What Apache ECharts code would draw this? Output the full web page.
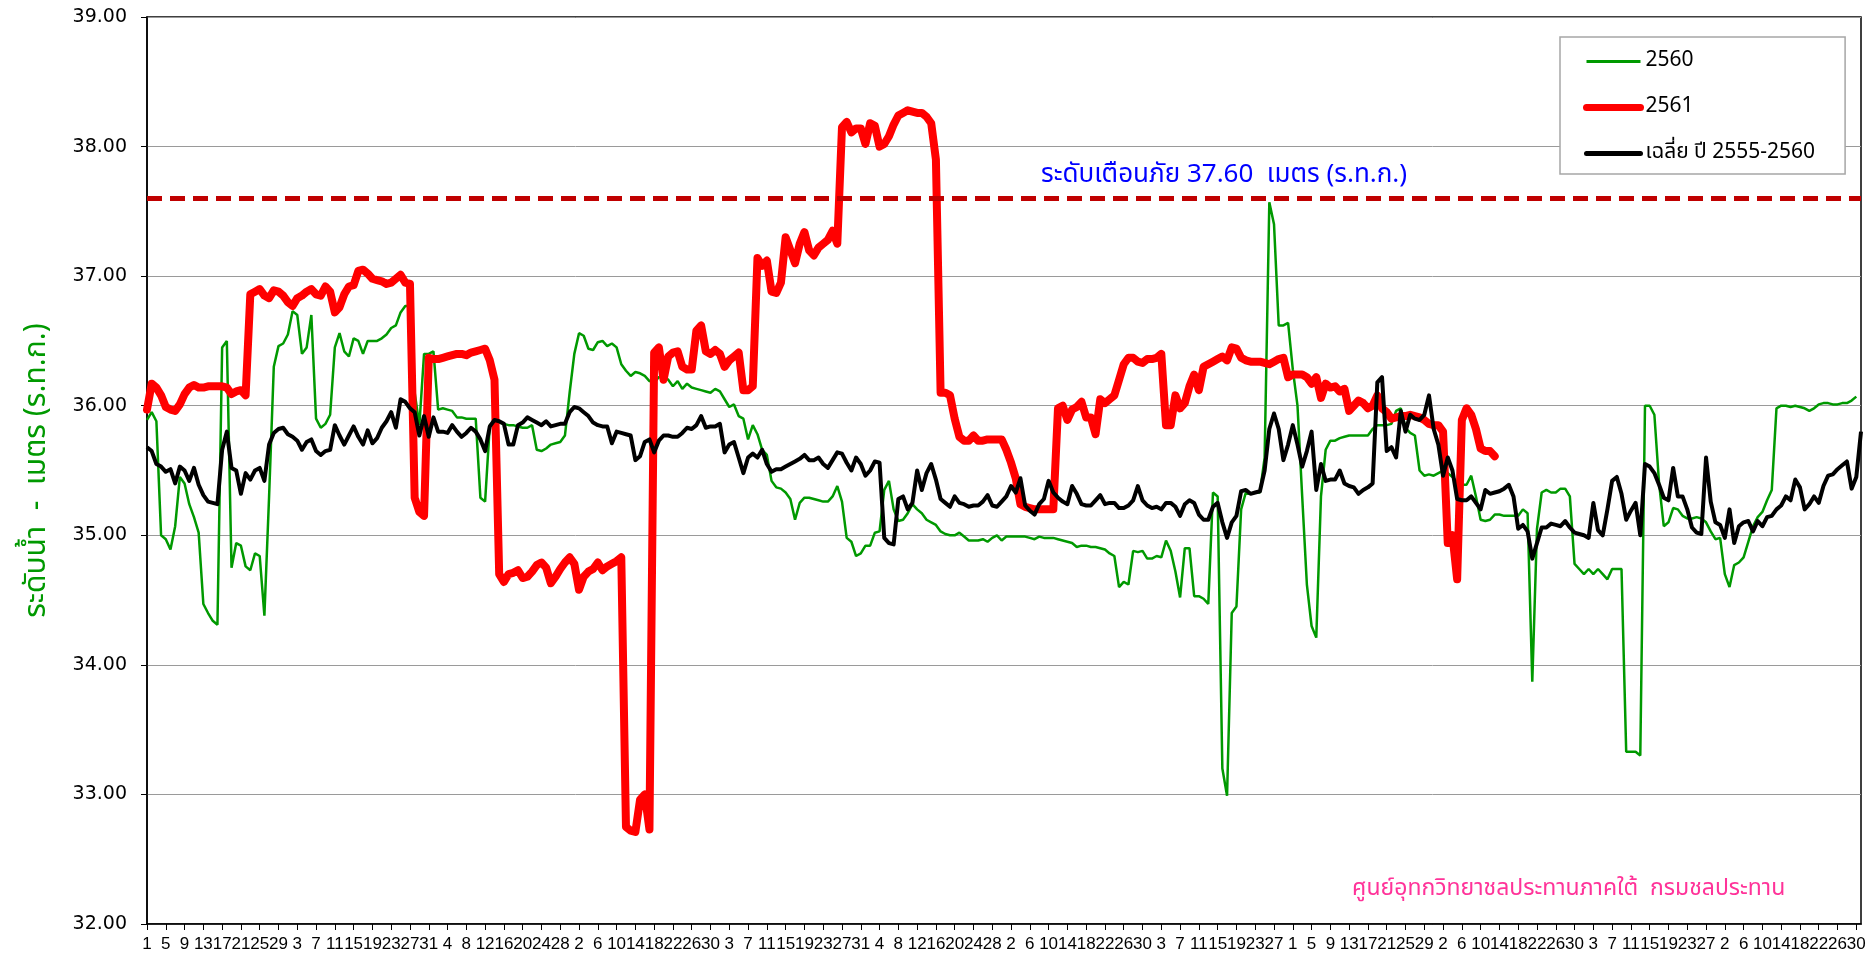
<!DOCTYPE html>
<html>
<head>
<meta charset="utf-8">
<script src="https://cdn.jsdelivr.net/npm/echarts@6/dist/echarts.min.js"></script>
<style>
  html, body { margin: 0; padding: 0; background: #ffffff; }
  #chart { width: 1876px; height: 961px; }
</style>
</head>
<body>
<div id="chart"></div>
<script>
// Water year: 1 Apr – 31 Mar (Feb has 29 days this year)
const MONTH_DAYS = [30, 31, 30, 31, 31, 30, 31, 30, 31, 31, 29, 31];

// Daily water level (m MSL), water year 2560
const level2560 = [
  35.89, 35.95, 35.88, 35.00, 34.97, 34.89, 35.07, 35.45, 35.40, 35.24,
  35.14, 35.02, 34.47, 34.40, 34.34, 34.31, 36.45, 36.50, 34.75, 34.94,
  34.92, 34.76, 34.73, 34.86, 34.84, 34.38, 35.30, 36.30, 36.46, 36.48,
  36.55, 36.73, 36.70, 36.40, 36.45, 36.70, 35.90, 35.83, 35.86, 35.93,
  36.45, 36.56, 36.42, 36.38, 36.52, 36.50, 36.40, 36.50, 36.50, 36.50,
  36.52, 36.55, 36.60, 36.62, 36.72, 36.77, 36.77, 36.10, 35.85, 36.40,
  36.40, 36.42, 35.97, 35.98, 35.97, 35.96, 35.91, 35.91, 35.90, 35.90,
  35.90, 35.29, 35.26, 35.85, 35.88, 35.87, 35.86, 35.85, 35.85, 35.84,
  35.83, 35.83, 35.85, 35.66, 35.65, 35.67, 35.70, 35.71, 35.72, 35.77,
  36.10, 36.40, 36.56, 36.54, 36.44, 36.43, 36.49, 36.50, 36.46, 36.48,
  36.45, 36.32, 36.27, 36.23, 36.26, 36.25, 36.23, 36.19, 36.18, 36.22,
  36.23, 36.20, 36.15, 36.19, 36.13, 36.17, 36.14, 36.13, 36.12, 36.11,
  36.10, 36.13, 36.11, 36.05, 35.99, 36.01, 35.92, 35.90, 35.74, 35.85,
  35.78, 35.66, 35.62, 35.42, 35.37, 35.36, 35.33, 35.28, 35.12, 35.25,
  35.29, 35.29, 35.28, 35.27, 35.26, 35.26, 35.30, 35.38, 35.26, 34.98,
  34.95, 34.84, 34.86, 34.92, 34.92, 35.02, 35.03, 35.35, 35.42, 35.20,
  35.11, 35.12, 35.17, 35.24, 35.20, 35.17, 35.12, 35.10, 35.08, 35.03,
  35.01, 35.00, 35.00, 35.02, 34.99, 34.96, 34.96, 34.96, 34.97, 34.95,
  34.98, 35.00, 34.96, 34.99, 34.99, 34.99, 34.99, 34.99, 34.98, 34.97,
  34.99, 34.98, 34.98, 34.98, 34.97, 34.96, 34.95, 34.94, 34.91, 34.92,
  34.92, 34.91, 34.91, 34.90, 34.89, 34.86, 34.84, 34.60, 34.64, 34.62,
  34.88, 34.87, 34.88, 34.82, 34.82, 34.84, 34.83, 34.96, 34.88, 34.72,
  34.52, 34.90, 34.90, 34.53, 34.53, 34.51, 34.47, 35.33, 35.30, 33.20,
  32.99, 34.40, 34.45, 35.20, 35.33, 35.32, 35.33, 35.33, 35.60, 37.57,
  37.40, 36.62, 36.62, 36.64, 36.28, 36.00, 35.30, 34.62, 34.30, 34.21,
  35.30, 35.66, 35.73, 35.73, 35.75, 35.76, 35.77, 35.77, 35.77, 35.77,
  35.77, 35.82, 35.85, 35.85, 35.85, 35.86, 35.96, 35.98, 35.83, 35.79,
  35.77, 35.50, 35.46, 35.47, 35.46, 35.48, 35.50, 35.48, 35.45, 35.41,
  35.39, 35.39, 35.46, 35.30, 35.12, 35.11, 35.12, 35.16, 35.16, 35.15,
  35.15, 35.15, 35.15, 35.20, 35.17, 33.87, 35.05, 35.33, 35.35, 35.33,
  35.33, 35.36, 35.36, 35.30, 34.78, 34.74, 34.70, 34.74, 34.70, 34.74,
  34.70, 34.66, 34.74, 34.74, 34.74, 33.33, 33.33, 33.33, 33.30, 36.00,
  36.00, 35.93, 35.40, 35.07, 35.10, 35.21, 35.20, 35.15, 35.13, 35.13,
  35.14, 35.13, 35.10, 35.03, 34.97, 34.98, 34.70, 34.60, 34.77, 34.79,
  34.83, 34.95, 35.07, 35.14, 35.18, 35.27, 35.35, 35.98, 36.00, 36.00,
  35.99, 36.00, 35.99, 35.98, 35.96, 35.98, 36.01, 36.02, 36.02, 36.01,
  36.01, 36.02, 36.02, 36.04, 36.07
];

// Daily water level (m MSL), water year 2561 (to date)
const level2561 = [
  35.97, 36.17, 36.14, 36.08, 35.99, 35.97, 35.96, 36.01, 36.09, 36.14,
  36.16, 36.14, 36.14, 36.15, 36.15, 36.15, 36.15, 36.14, 36.09, 36.11,
  36.12, 36.08, 36.86, 36.88, 36.90, 36.85, 36.83, 36.89, 36.88, 36.85,
  36.80, 36.77, 36.83, 36.85, 36.88, 36.90, 36.86, 36.85, 36.92, 36.88,
  36.72, 36.76, 36.86, 36.92, 36.93, 37.04, 37.05, 37.02, 36.98, 36.97,
  36.96, 36.94, 36.95, 36.98, 37.01, 36.95, 36.94, 35.29, 35.18, 35.15,
  36.37, 36.36, 36.36, 36.37, 36.38, 36.39, 36.40, 36.40, 36.39, 36.41,
  36.42, 36.43, 36.44, 36.35, 36.20, 34.70, 34.64, 34.70, 34.71, 34.73,
  34.67, 34.68, 34.72, 34.77, 34.79, 34.75, 34.63, 34.68, 34.74, 34.79,
  34.83, 34.78, 34.58, 34.68, 34.72, 34.74, 34.79, 34.73, 34.76, 34.78,
  34.80, 34.83, 32.75, 32.72, 32.71, 32.96, 33.00, 32.73, 36.41, 36.45,
  36.20, 36.38, 36.41, 36.42, 36.30, 36.28, 36.28, 36.58, 36.62, 36.42,
  36.40, 36.43, 36.40, 36.30, 36.35, 36.38, 36.41, 36.12, 36.12, 36.15,
  37.14, 37.08, 37.12, 36.88, 36.87, 36.95, 37.30, 37.20, 37.10, 37.25,
  37.34, 37.20, 37.16, 37.22, 37.25, 37.28, 37.35, 37.25, 38.15, 38.19,
  38.11, 38.14, 38.14, 38.02, 38.18, 38.16, 38.00, 38.02, 38.08, 38.17,
  38.24, 38.26, 38.28, 38.27, 38.26, 38.26, 38.23, 38.18, 37.90, 36.10,
  36.10, 36.08, 35.90, 35.76, 35.73, 35.73, 35.77, 35.73, 35.73, 35.74,
  35.74, 35.74, 35.74, 35.66, 35.56, 35.44, 35.24, 35.22, 35.21, 35.20,
  35.20, 35.20, 35.20, 35.20, 35.98, 36.00, 35.89, 35.97, 35.99, 36.03,
  35.91, 35.91, 35.78, 36.05, 36.02, 36.05, 36.08, 36.20, 36.32, 36.37,
  36.37, 36.34, 36.33, 36.36, 36.36, 36.37, 36.40, 35.85, 35.85, 36.08,
  35.98, 36.02, 36.15, 36.24, 36.12, 36.30, 36.32, 36.34, 36.36, 36.38,
  36.35, 36.45, 36.44, 36.37, 36.35, 36.34, 36.34, 36.34, 36.33, 36.32,
  36.34, 36.36, 36.37, 36.22, 36.24, 36.24, 36.24, 36.22, 36.17, 36.22,
  36.06, 36.17, 36.14, 36.15, 36.11, 36.13, 35.96, 36.00, 36.04, 36.02,
  35.98, 36.00, 36.08, 35.98, 35.95, 35.90, 35.91, 35.92, 35.92, 35.93,
  35.92, 35.91, 35.89, 35.86, 35.85, 35.85, 35.80, 34.94, 35.00, 34.66,
  35.89, 35.98, 35.93, 35.82, 35.67, 35.65, 35.65, 35.61
];

// Daily mean water level (m MSL), water years 2555–2560
const avg2555_2560 = [
  35.68, 35.65, 35.55, 35.53, 35.49, 35.51, 35.40, 35.53, 35.50, 35.42,
  35.52, 35.39, 35.31, 35.26, 35.25, 35.24, 35.66, 35.80, 35.52, 35.50,
  35.32, 35.48, 35.43, 35.50, 35.52, 35.42, 35.70, 35.79, 35.82, 35.83,
  35.78, 35.76, 35.73, 35.66, 35.72, 35.74, 35.65, 35.62, 35.65, 35.66,
  35.85, 35.77, 35.70, 35.77, 35.84, 35.76, 35.70, 35.81, 35.71, 35.75,
  35.83, 35.88, 35.95, 35.83, 36.05, 36.03, 35.98, 35.95, 35.77, 35.92,
  35.76, 35.91, 35.80, 35.80, 35.79, 35.85, 35.80, 35.76, 35.79, 35.83,
  35.80, 35.74, 35.65, 35.84, 35.89, 35.88, 35.86, 35.70, 35.70, 35.85,
  35.87, 35.91, 35.89, 35.87, 35.85, 35.88, 35.84, 35.85, 35.86, 35.86,
  35.95, 35.99, 35.98, 35.95, 35.92, 35.87, 35.85, 35.84, 35.84, 35.71,
  35.80, 35.79, 35.78, 35.77, 35.58, 35.61, 35.72, 35.74, 35.64, 35.73,
  35.77, 35.77, 35.76, 35.76, 35.79, 35.83, 35.82, 35.85, 35.92, 35.83,
  35.84, 35.84, 35.86, 35.64, 35.70, 35.72, 35.60, 35.48, 35.60, 35.63,
  35.60, 35.66, 35.55, 35.49, 35.51, 35.51, 35.53, 35.55, 35.57, 35.59,
  35.62, 35.58, 35.58, 35.60, 35.55, 35.52, 35.58, 35.64, 35.63, 35.56,
  35.50, 35.60, 35.55, 35.46, 35.50, 35.57, 35.56, 34.98, 34.94, 34.93,
  35.28, 35.30, 35.20, 35.25, 35.50, 35.35, 35.48, 35.55, 35.43, 35.28,
  35.25, 35.22, 35.30, 35.25, 35.24, 35.22, 35.23, 35.23, 35.26, 35.31,
  35.23, 35.22, 35.26, 35.30, 35.38, 35.33, 35.44, 35.23, 35.19, 35.16,
  35.24, 35.28, 35.42, 35.33, 35.29, 35.26, 35.24, 35.38, 35.32, 35.24,
  35.23, 35.23, 35.27, 35.31, 35.24, 35.25, 35.25, 35.21, 35.21, 35.23,
  35.27, 35.38, 35.27, 35.23, 35.21, 35.22, 35.20, 35.25, 35.25, 35.22,
  35.15, 35.24, 35.27, 35.25, 35.16, 35.12, 35.12, 35.22, 35.25, 35.10,
  34.98, 35.10, 35.15, 35.34, 35.35, 35.32, 35.33, 35.34, 35.50, 35.82,
  35.94, 35.82, 35.58, 35.70, 35.85, 35.70, 35.53, 35.65, 35.80, 35.35,
  35.55, 35.42, 35.43, 35.43, 35.50, 35.40, 35.38, 35.37, 35.32, 35.35,
  35.37, 35.40, 36.18, 36.22, 35.65, 35.68, 35.60, 35.96, 35.80, 35.93,
  35.90, 35.89, 35.93, 36.08, 35.82, 35.70, 35.46, 35.60, 35.50, 35.28,
  35.27, 35.27, 35.30, 35.25, 35.20, 35.35, 35.32, 35.33, 35.34, 35.36,
  35.39, 35.30, 35.05, 35.08, 35.03, 34.82, 34.94, 35.06, 35.06, 35.09,
  35.08, 35.07, 35.11, 35.06, 35.02, 35.01, 35.00, 34.98, 35.25, 35.04,
  35.00, 35.20, 35.42, 35.45, 35.32, 35.12, 35.19, 35.25, 35.00, 35.55,
  35.53, 35.48, 35.39, 35.29, 35.27, 35.52, 35.30, 35.30, 35.20, 35.06,
  35.02, 35.01, 35.60, 35.26, 35.10, 35.08, 34.98, 35.20, 34.94, 35.07,
  35.10, 35.11, 35.03, 35.11, 35.07, 35.14, 35.15, 35.20, 35.23, 35.30,
  35.27, 35.43, 35.37, 35.20, 35.24, 35.30, 35.25, 35.38, 35.46, 35.47,
  35.51, 35.54, 35.57, 35.36, 35.45, 35.80
];

const WARN_LEVEL = 37.6;          // flood warning stage
const Y_MIN = 32, Y_MAX = 39, Y_STEP = 1;
const SERIES_NAMES = ['2560', '2561', 'เฉลี่ย ปี 2555-2560'];

// Day-of-month category labels for every day of the water year
const days = [];
MONTH_DAYS.forEach(n => { for (let d = 1; d <= n; d++) days.push(String(d)); });

const THAI_FONT = '"Noto Sans Thai", "Noto Sans", "DejaVu Sans", sans-serif';

const chart = echarts.init(document.getElementById('chart'), null, { renderer: 'canvas' });

chart.setOption({
  animation: false,
  backgroundColor: '#ffffff',
  grid: {
    left: 147, right: 15, top: 17, bottom: 37,
    show: true, borderColor: '#000000', borderWidth: 1.5, backgroundColor: 'transparent'
  },
  legend: {
    orient: 'vertical',
    left: 1560, top: 37,
    data: [
      { name: SERIES_NAMES[0], lineStyle: { width: 3 } },
      { name: SERIES_NAMES[1], lineStyle: { width: 7, cap: 'round' } },
      { name: SERIES_NAMES[2], lineStyle: { width: 5, cap: 'round' } }
    ],
    backgroundColor: '#ffffff',
    borderColor: '#a6a6a6', borderWidth: 1.5,
    padding: [14, 30, 10, 23],
    itemWidth: 54, itemHeight: 20, itemGap: 25,
    itemStyle: { opacity: 0 },
    textStyle: { fontSize: 21, color: '#000000', fontFamily: THAI_FONT }
  },
  xAxis: {
    type: 'category',
    data: days,
    boundaryGap: false,
    axisLine: { lineStyle: { color: '#000000', width: 1.5 } },
    axisTick: { interval: 3, length: 6, lineStyle: { color: '#000000', width: 1 } },
    axisLabel: {
      interval: 3, margin: 12, color: '#000000', fontSize: 17,
      fontFamily: '"Liberation Sans Narrow", "Liberation Sans", sans-serif'
    },
    splitLine: { show: false }
  },
  yAxis: {
    type: 'value',
    min: Y_MIN, max: Y_MAX, interval: Y_STEP,
    name: 'ระดับน้ำ  -  เมตร (ร.ท.ก.)',
    nameLocation: 'middle', nameGap: 93, nameRotate: 90,
    nameTextStyle: { color: '#009900', fontSize: 30, fontFamily: THAI_FONT },
    axisLine: { show: true, lineStyle: { color: '#000000', width: 1.5 } },
    axisTick: { show: true, length: 6, lineStyle: { color: '#000000' } },
    axisLabel: {
      margin: 20, color: '#000000', fontSize: 19, fontFamily: '"DejaVu Sans", sans-serif',
      formatter: v => v.toFixed(2)
    },
    splitLine: { lineStyle: { color: '#9a9a9a', width: 1 } }
  },
  series: [
    {
      name: SERIES_NAMES[0], type: 'line', data: level2560,
      symbol: 'none', smooth: false,
      lineStyle: { color: '#009900', width: 2.5 },
      itemStyle: { color: '#009900' },
      z: 2
    },
    {
      name: SERIES_NAMES[1], type: 'line', data: level2561,
      symbol: 'none', smooth: false,
      lineStyle: { color: '#ff0000', width: 8, cap: 'round', join: 'round' },
      itemStyle: { color: '#ff0000' },
      z: 3,
      markLine: {
        silent: true, symbol: 'none',
        lineStyle: { color: '#c00000', width: 5, type: [15, 8] },
        label: { show: false },
        data: [{ yAxis: WARN_LEVEL }]
      }
    },
    {
      name: SERIES_NAMES[2], type: 'line', data: avg2555_2560,
      symbol: 'none', smooth: false,
      lineStyle: { color: '#000000', width: 4, join: 'round' },
      itemStyle: { color: '#000000' },
      z: 4
    }
  ],
  graphic: [
    {
      type: 'text', left: 1041, top: 164, z: 10,
      style: {
        text: 'ระดับเตือนภัย ' + WARN_LEVEL.toFixed(2) + '  เมตร (ร.ท.ก.)',
        fill: '#0000ff', fontSize: 26, fontFamily: THAI_FONT
      }
    },
    {
      type: 'text', left: 1352, top: 879, z: 10,
      style: {
        text: 'ศูนย์อุทกวิทยาชลประทานภาคใต้  กรมชลประทาน',
        fill: '#ff3399', fontSize: 23, fontFamily: THAI_FONT
      }
    }
  ]
});
</script>
</body>
</html>
